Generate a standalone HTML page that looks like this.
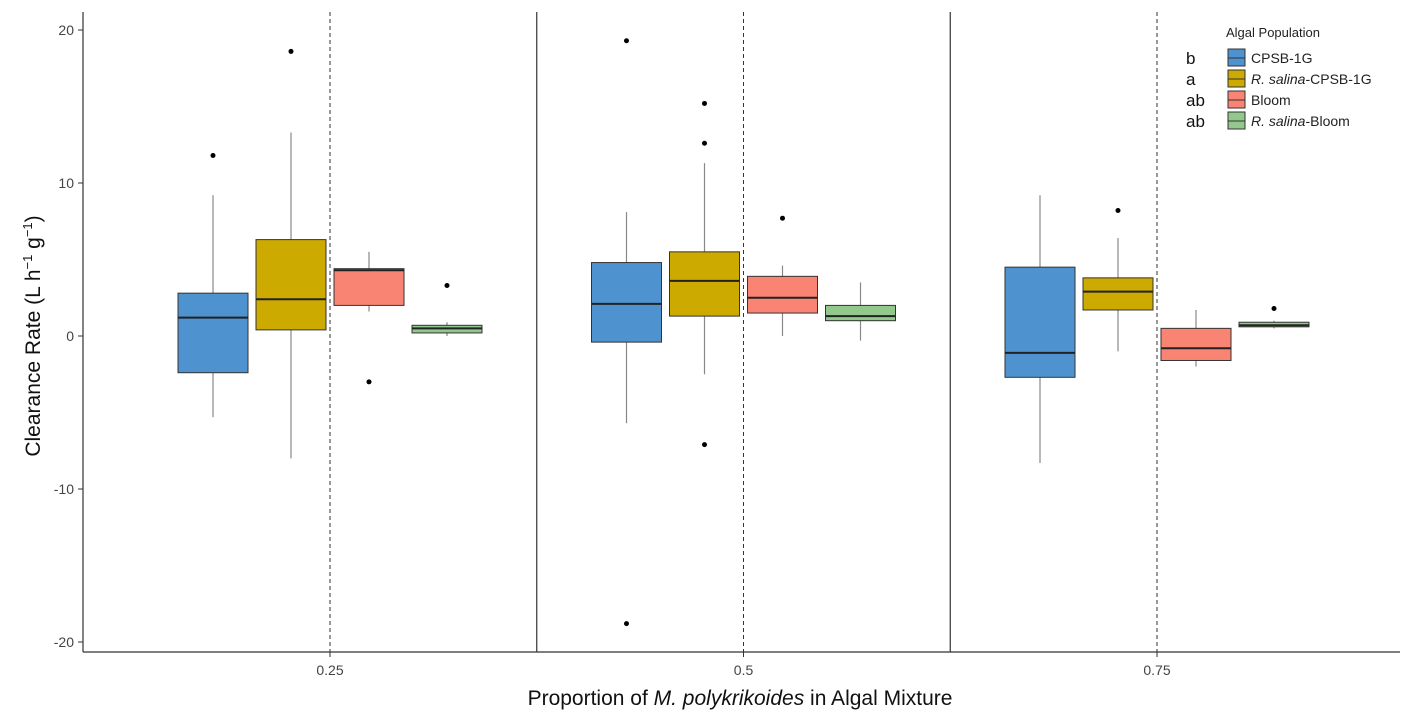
<!DOCTYPE html>
<html><head><meta charset="utf-8"><style>
body{margin:0;background:#fff;}
svg{display:block;font-family:"Liberation Sans",Arial,sans-serif;}
</style></head><body>
<svg id="chart" width="1417" height="723" viewBox="0 0 1417 723"></svg>
<script>
const categories=["0.25","0.5","0.75"];
const series=["CPSB-1G","R. salina-CPSB-1G","Bloom","R. salina-Bloom"];
const colors=["#4e93d0","#ccaa00","#f98473","#93c88c"];
// [whiskerLow, q1, median, q3, whiskerHigh] per category per series
const cpsb=[[-5.3,-2.4,1.2,2.8,9.2],[-5.7,-0.4,2.1,4.8,8.1],[-8.3,-2.7,-1.1,4.5,9.2]];
const rsCpsb=[[-8,0.4,2.4,6.3,13.3],[-2.5,1.3,3.6,5.5,11.3],[-1.0,1.7,2.9,3.8,6.4]];
const bloom=[[1.6,2.0,4.3,4.4,5.5],[0.0,1.5,2.5,3.9,4.6],[-2.0,-1.6,-0.8,0.5,1.7]];
const rsBloom=[[0.0,0.2,0.5,0.7,0.9],[-0.3,1.0,1.3,2.0,3.5],[0.5,0.6,0.7,0.9,1.0]];
const outCpsb=[[11.8],[19.3,-18.8],[]];
const outRsCpsb=[[18.6],[15.2,12.6,-7.1],[8.2]];
const outBloom=[[-3],[7.7],[]];
const outRsBloom=[[3.3],[],[1.8]];
const letters=["b","a","ab","ab"];
const yTicks=[20,10,0,-10,-20];

const svg=document.getElementById('chart');
const NS='http://www.w3.org/2000/svg';
function el(t,a,txt){const e=document.createElementNS(NS,t);for(const k in a)e.setAttribute(k,a[k]);if(txt!==undefined)e.textContent=txt;svg.appendChild(e);return e;}
const y=v=>336-v*15.3;
const xc=i=>330+i*413.5;
const off=[-117,-39,39,117];const bw=70;
const stats=[cpsb,rsCpsb,bloom,rsBloom];
const outs=[outCpsb,outRsCpsb,outBloom,outRsBloom];

// separators
[0,1].forEach(i=>{let l=el('line',{x1:xc(i)+206.75,x2:xc(i)+206.75,y1:12,y2:652,stroke:'#333','stroke-width':1.2});
});
categories.forEach((c,i)=>{let l=el('line',{x1:xc(i),x2:xc(i),y1:12,y2:652,stroke:'#333','stroke-width':1,'stroke-dasharray':'4,3'});
});

stats.forEach((s,si)=>{categories.forEach((c,ci)=>{
 const d=s[ci];const cx=xc(ci)+off[si];
 let w=el('line',{x1:cx,x2:cx,y1:y(d[0]),y2:y(d[4]),stroke:'#888','stroke-width':1.2});
 
 let r=el('rect',{x:cx-bw/2,y:y(d[3]),width:bw,height:y(d[1])-y(d[3]),fill:colors[si],stroke:'#333','stroke-width':1});
 
 let m=el('line',{x1:cx-bw/2,x2:cx+bw/2,y1:y(d[2]),y2:y(d[2]),stroke:'#222','stroke-width':2});
 
 outs[si][ci].forEach(v=>{let o=el('circle',{cx:cx,cy:y(v),r:2.5,fill:'#000'});
 });
});});

// axes
let ya=el('line',{x1:83,x2:83,y1:12,y2:652,stroke:'#333','stroke-width':1.2});
let xa=el('line',{x1:83,x2:1400,y1:652,y2:652,stroke:'#333','stroke-width':1.2});
yTicks.forEach(v=>{let t=el('line',{x1:78,x2:83,y1:y(v),y2:y(v),stroke:'#333'});
let l=el('text',{x:74,y:y(v)+5,'text-anchor':'end','font-size':14,fill:'#444'},v);});
categories.forEach((c,i)=>{let t=el('line',{x1:xc(i),x2:xc(i),y1:652,y2:657,stroke:'#333'});
let l=el('text',{x:xc(i),y:675,'text-anchor':'middle','font-size':14,fill:'#444'},c);});

let xt=el('text',{x:740,y:705,'text-anchor':'middle','font-size':21,fill:'#111'});
xt.innerHTML='Proportion of <tspan font-style="italic">M. polykrikoides</tspan> in Algal Mixture';

let yt=el('text',{transform:'translate(40,336) rotate(-90)','text-anchor':'middle','font-size':21,fill:'#111'});
yt.innerHTML='Clearance Rate (L h<tspan dy="-8" font-size="13">−1</tspan><tspan dy="8"> g</tspan><tspan dy="-8" font-size="13">−1</tspan><tspan dy="8">)</tspan>';


// legend
let lt=el('text',{x:1226,y:37,'font-size':13,fill:'#222'},'Algal Population');
const labs=['CPSB-1G','<tspan font-style="italic">R. salina</tspan>-CPSB-1G','Bloom','<tspan font-style="italic">R. salina</tspan>-Bloom'];
series.forEach((s,i)=>{const ly=58+i*21;
 let r=el('rect',{x:1228,y:ly-9,width:17,height:17,fill:colors[i],stroke:'#333'});
 let ml=el('line',{x1:1228,x2:1245,y1:ly,y2:ly,stroke:'#333'});
 let t=el('text',{x:1251,y:ly+5,'font-size':14,fill:'#222'});t.innerHTML=labs[i];
 let lt2=el('text',{x:1186,y:ly+6,'font-size':17,fill:'#111'},letters[i]);
});
</script>
</body></html>
